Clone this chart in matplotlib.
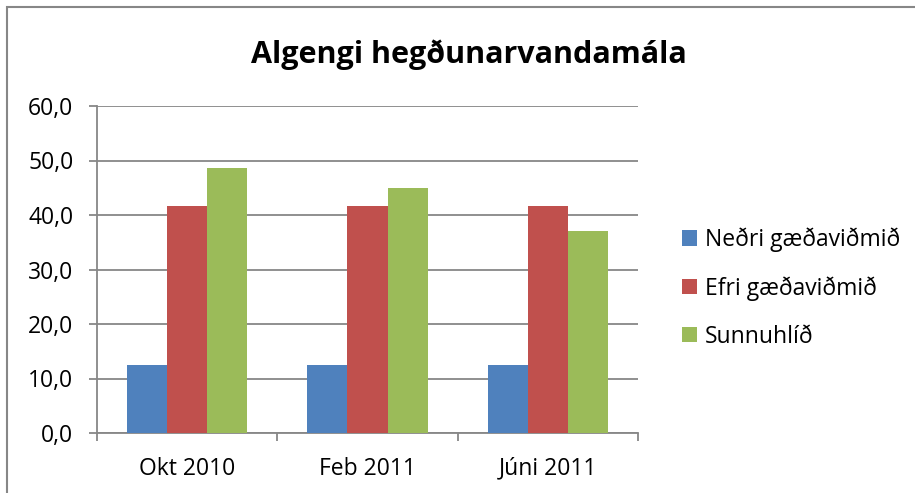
import matplotlib
matplotlib.use("Agg")
import matplotlib.pyplot as plt
import numpy as np
from matplotlib.patches import Rectangle

categories = ["Okt 2010", "Feb 2011", "Júni 2011"]
series_names = ["Neðri gæðaviðmið", "Efri gæðaviðmið", "Sunnuhlíð"]
nedri = [12.5, 12.5, 12.5]
efri = [41.7, 41.7, 41.7]
sunnuhlid = [48.6, 44.9, 37.1]
colors = ["#4F81BD", "#C0504D", "#9BBB59"]
yticks = [0, 10, 20, 30, 40, 50, 60]
ytick_labels = ["0,0", "10,0", "20,0", "30,0", "40,0", "50,0", "60,0"]

plt.rcParams['font.family'] = ['Open Sans', 'DejaVu Sans']
FS = 16.5

fig = plt.figure(figsize=(9.15, 4.93), dpi=100)
W, H = 915, 493
ax = fig.add_axes([97 / W, 1 - 433 / H, (638 - 97) / W, (433 - 106) / H])

x = np.arange(len(categories))
w = 0.222
for i, (vals, name, c) in enumerate(zip([nedri, efri, sunnuhlid], series_names, colors)):
    ax.bar(x + (i - 1) * w, vals, width=w, color=c, label=name, zorder=3)

ax.set_xlim(-0.5, len(categories) - 0.5)
ax.set_ylim(0, 60)
ax.set_yticks(yticks)
ax.set_yticklabels(ytick_labels, fontsize=FS)
ax.yaxis.grid(True, color="#878787", linewidth=1.3, zorder=0)
ax.set_axisbelow(True)

ax.set_xticks(x)
ax.set_xticklabels(categories, fontsize=FS)
ax.tick_params(axis='x', length=0, pad=17)
ax.set_xticks(np.arange(-0.5, len(categories)), minor=True)
ax.tick_params(axis='x', which='minor', length=6, color="#878787", width=1.3)
ax.tick_params(axis='y', length=6, color="#878787", width=1.3, pad=11)

for s in ["top", "right"]:
    ax.spines[s].set_visible(False)
for s in ["left", "bottom"]:
    ax.spines[s].set_color("#878787")
    ax.spines[s].set_linewidth(1.3)

fig.text(469 / W, 1 - 55 / H, "Algengi hegðunarvandamála", ha="center", va="center",
         fontsize=22, fontweight="bold")

handles, labels = ax.get_legend_handles_labels()
fig.legend(handles, labels, loc="center left", bbox_to_anchor=(682 / W, 1 - 288 / H),
           frameon=False, fontsize=FS, handlelength=0.65, handleheight=0.65,
           handletextpad=0.35, labelspacing=1.05, borderpad=0, borderaxespad=0)

fig.patches.append(Rectangle((7 / W, -0.1), 1.2, 1 - 7 / H + 0.1, transform=fig.transFigure,
                             fill=False, edgecolor="#878787", linewidth=1.5))

fig.savefig("out.png", dpi=100)
